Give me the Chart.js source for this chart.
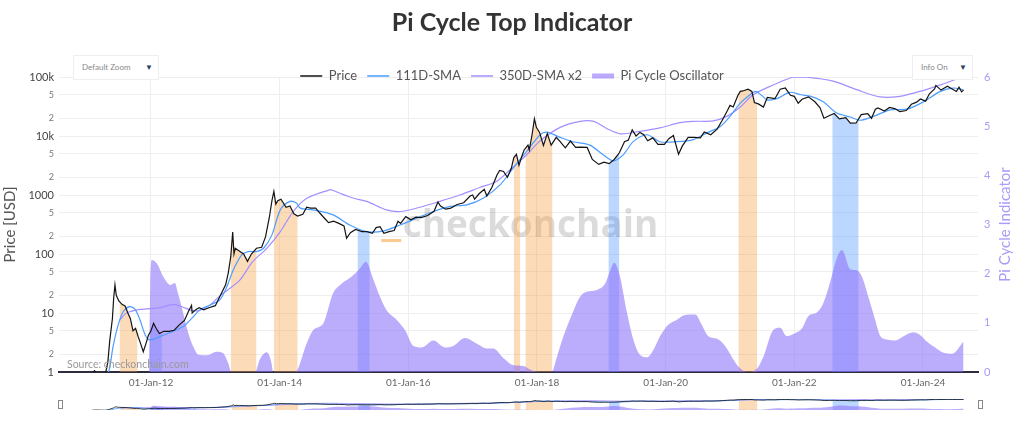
<!DOCTYPE html>
<html>
<head>
<meta charset="utf-8">
<title>Pi Cycle Top Indicator</title>
<script src="https://cdn.jsdelivr.net/npm/chart.js@4.4.1/dist/chart.umd.min.js"></script>
<style>
  html, body { margin: 0; padding: 0; background: #fff; }
  #wrap { position: relative; width: 1024px; height: 429px; overflow: hidden; font-family: Lato, "Open Sans", sans-serif; }
  #main { position: absolute; left: 0; top: 0; }
  #slider { position: absolute; left: 60px; top: 399px; }
  .menu { position: absolute; top: 55px; height: 25px; background: #fff; border: 1px solid #eee; box-sizing: border-box;
          font-size: 8px; color: #888; line-height: 23px; padding-left: 8px; }
  .menu span { position: absolute; right: 5px; top: 0; color: #2a3f5f; font-size: 8px; }
  .handle { position: absolute; top: 400px; width: 3px; height: 7px; border: 1px solid #888; background: #fff; }
</style>
</head>
<body>
<div id="wrap">
  <canvas id="main" width="1024" height="429"></canvas>
  <canvas id="slider" width="918" height="11"></canvas>
  <div class="handle" style="left:58px"></div>
  <div class="handle" style="left:978px"></div>
  <div class="menu" style="left:73px; width:86px">Default Zoom<span>&#9660;</span></div>
  <div class="menu" style="left:912px; width:61px">Info On<span>&#9660;</span></div>
</div>
<script>
// values, x = decimal year
const price = [
  [2010.58, 0.065], [2010.75, 0.1], [2010.92, 0.25], [2011.0, 0.3], [2011.08, 0.8], [2011.12, 1.05],
  [2011.2, 0.9], [2011.28, 0.8], [2011.33, 1.5], [2011.36, 3.5], [2011.4, 8], [2011.42, 18], [2011.44, 30],
  [2011.46, 20], [2011.5, 16], [2011.55, 14], [2011.6, 13], [2011.64, 10], [2011.68, 8], [2011.72, 5],
  [2011.76, 5.5], [2011.8, 4], [2011.84, 3], [2011.88, 2.2], [2011.92, 3], [2011.96, 4.2], [2012.0, 5],
  [2012.04, 6.7], [2012.08, 5.5], [2012.13, 4.5], [2012.2, 4.9], [2012.28, 4.9], [2012.36, 5.1],
  [2012.44, 6.3], [2012.52, 7.5], [2012.58, 10.5], [2012.63, 13.5], [2012.64, 10], [2012.7, 11.5],
  [2012.75, 12.3], [2012.82, 11.3], [2012.9, 12.3], [2013.0, 13.3], [2013.08, 20], [2013.16, 30],
  [2013.2, 47], [2013.24, 90], [2013.27, 235], [2013.29, 100], [2013.31, 125], [2013.36, 115],
  [2013.44, 100], [2013.5, 75], [2013.56, 100], [2013.64, 125], [2013.72, 130], [2013.78, 195],
  [2013.84, 420], [2013.88, 800], [2013.91, 1150], [2013.94, 700], [2013.97, 800], [2014.02, 850],
  [2014.1, 620], [2014.16, 650], [2014.22, 480], [2014.28, 440], [2014.36, 470], [2014.42, 620],
  [2014.48, 600], [2014.56, 600], [2014.62, 500], [2014.7, 400], [2014.76, 340], [2014.84, 360],
  [2014.92, 330], [2015.0, 300], [2015.04, 185], [2015.1, 230], [2015.18, 260], [2015.28, 240],
  [2015.36, 240], [2015.44, 225], [2015.5, 280], [2015.56, 290], [2015.62, 225], [2015.7, 240],
  [2015.78, 250], [2015.84, 360], [2015.88, 330], [2015.96, 430], [2016.04, 380], [2016.12, 420],
  [2016.2, 415], [2016.3, 450], [2016.4, 530], [2016.46, 760], [2016.5, 650], [2016.58, 575],
  [2016.66, 600], [2016.76, 690], [2016.86, 740], [2016.96, 960], [2017.0, 1000], [2017.03, 850],
  [2017.1, 1050], [2017.18, 1250], [2017.22, 960], [2017.3, 1350], [2017.38, 2200], [2017.42, 2600],
  [2017.48, 2500], [2017.54, 2000], [2017.6, 2800], [2017.64, 4300], [2017.68, 4900], [2017.72, 3200],
  [2017.76, 4400], [2017.8, 5800], [2017.86, 7000], [2017.88, 5800], [2017.92, 10000], [2017.96, 19600],
  [2017.99, 14000], [2018.04, 11500], [2018.1, 6900], [2018.16, 11000], [2018.22, 7000], [2018.3, 9500],
  [2018.36, 8000], [2018.44, 6300], [2018.52, 8200], [2018.6, 6400], [2018.68, 6500], [2018.78, 6400],
  [2018.86, 4000], [2018.96, 3300], [2019.04, 3600], [2019.12, 3400], [2019.2, 4000], [2019.28, 5200],
  [2019.36, 8000], [2019.42, 8500], [2019.48, 12700], [2019.54, 10000], [2019.6, 11500], [2019.66, 10500],
  [2019.72, 8300], [2019.8, 9300], [2019.88, 7200], [2019.98, 7200], [2020.05, 9000], [2020.12, 10200],
  [2020.2, 4900], [2020.26, 6800], [2020.35, 9500], [2020.44, 9500], [2020.54, 9300], [2020.6, 11700],
  [2020.7, 10500], [2020.8, 13100], [2020.88, 18500], [2020.96, 27000], [2021.0, 33000], [2021.05, 31000],
  [2021.12, 48000], [2021.16, 57000], [2021.2, 58000], [2021.28, 62000], [2021.34, 57000], [2021.38, 37000],
  [2021.44, 35000], [2021.52, 31000], [2021.58, 45000], [2021.7, 43000], [2021.78, 62000], [2021.86, 65000],
  [2021.94, 49000], [2022.0, 47000], [2022.06, 36000], [2022.12, 42000], [2022.22, 46000], [2022.32, 38000],
  [2022.4, 30000], [2022.46, 20000], [2022.54, 22000], [2022.62, 24000], [2022.7, 19500], [2022.8, 20500],
  [2022.87, 16500], [2022.96, 16600], [2023.04, 23000], [2023.14, 24000], [2023.2, 20000], [2023.26, 28500],
  [2023.3, 30000], [2023.4, 26500], [2023.48, 30500], [2023.56, 29200], [2023.64, 26000], [2023.74, 27000],
  [2023.82, 34500], [2023.9, 37500], [2023.96, 42500], [2024.04, 39000], [2024.1, 52000], [2024.18, 63000],
  [2024.2, 72000], [2024.28, 60000], [2024.38, 70000], [2024.46, 62000], [2024.52, 57000], [2024.56, 67000],
  [2024.6, 56000], [2024.63, 60000]
];

const sma111 = [
  [2010.86, 0.07], [2011.1, 0.25], [2011.34, 1.0], [2011.41, 2.7], [2011.49, 6.3], [2011.57, 10.6],
  [2011.67, 12.8], [2011.75, 11.6], [2011.83, 7.6], [2011.91, 4.25], [2011.98, 3.5], [2012.14, 4.0],
  [2012.35, 4.9], [2012.5, 5.9], [2012.56, 6.7], [2012.66, 8.7], [2012.76, 11.3], [2012.92, 13.7],
  [2013.07, 16.7], [2013.18, 28], [2013.28, 54], [2013.41, 97], [2013.51, 110], [2013.64, 110],
  [2013.75, 125], [2013.88, 211], [2014.01, 560], [2014.16, 780], [2014.26, 730], [2014.32, 600],
  [2014.52, 560], [2014.83, 460], [2015.09, 310], [2015.35, 240], [2015.61, 245], [2015.87, 310],
  [2016.13, 405], [2016.39, 525], [2016.65, 640], [2016.91, 680], [2017.17, 890], [2017.43, 1500],
  [2017.63, 2850], [2017.84, 5500], [2018.05, 10500], [2018.15, 11600], [2018.36, 9500], [2018.56, 8000],
  [2018.82, 7000], [2019.03, 4800], [2019.19, 3800], [2019.34, 4800], [2019.5, 8100], [2019.71, 10500],
  [2019.91, 8000], [2020.17, 8000], [2020.43, 8700], [2020.64, 11300], [2020.85, 14500], [2021.0, 21500],
  [2021.16, 36000], [2021.31, 50000], [2021.4, 57000], [2021.5, 48000], [2021.58, 41000], [2021.73, 43000],
  [2021.93, 55000], [2022.1, 50000], [2022.26, 47000], [2022.45, 38000], [2022.66, 24500], [2022.87, 21000],
  [2023.02, 18500], [2023.23, 21500], [2023.49, 27800], [2023.75, 28500], [2024.01, 38000], [2024.27, 57000],
  [2024.47, 65000], [2024.63, 61000]
];

const sma350x2 = [
  [2011.51, 7.5], [2011.62, 10], [2011.83, 11.5], [2012.14, 12.3], [2012.35, 14], [2012.5, 12.5],
  [2012.62, 11.2], [2012.75, 11], [2012.93, 14], [2013.07, 19.5], [2013.18, 24], [2013.38, 36],
  [2013.58, 74], [2013.8, 125], [2014.01, 240], [2014.21, 525], [2014.43, 890], [2014.79, 1230],
  [2014.83, 1190], [2015.14, 890], [2015.35, 780], [2015.66, 560], [2015.87, 525], [2016.18, 620],
  [2016.49, 780], [2016.8, 1000], [2017.11, 1340], [2017.37, 1700], [2017.58, 2680], [2017.84, 4800],
  [2018.05, 8300], [2018.36, 14000], [2018.67, 17700], [2018.88, 17700], [2019.09, 13300], [2019.3, 10900],
  [2019.6, 12000], [2019.91, 13700], [2020.22, 16800], [2020.43, 17700], [2020.74, 18100], [2020.95, 21500],
  [2021.16, 31000], [2021.36, 50000], [2021.67, 73000], [2021.98, 99000], [2022.19, 99000], [2022.6, 85000],
  [2022.97, 61000], [2023.33, 46000], [2023.64, 47000], [2023.95, 57000], [2024.26, 73000], [2024.6, 99000]
];

const piOsc = [
  [2011.97, 0], [2011.99, 1.8], [2012.01, 2.28], [2012.09, 2.21], [2012.19, 1.94], [2012.3, 1.77],
  [2012.37, 1.81], [2012.42, 1.6], [2012.5, 1.2], [2012.58, 0.79], [2012.66, 0.51], [2012.74, 0.35],
  [2012.87, 0.34], [2013.02, 0.41], [2013.12, 0.38], [2013.2, 0.18], [2013.25, 0], [2013.62, 0],
  [2013.69, 0.25], [2013.8, 0.4], [2013.87, 0.2], [2013.9, 0], [2014.24, 0], [2014.42, 0.58],
  [2014.52, 0.85], [2014.68, 0.99], [2014.83, 1.6], [2014.94, 1.77], [2015.12, 1.94], [2015.25, 2.11],
  [2015.34, 2.24], [2015.46, 1.87], [2015.56, 1.53], [2015.66, 1.26], [2015.82, 1.06], [2015.95, 0.85],
  [2016.08, 0.53], [2016.21, 0.5], [2016.39, 0.64], [2016.57, 0.5], [2016.7, 0.53], [2016.88, 0.69],
  [2017.06, 0.58], [2017.22, 0.48], [2017.32, 0.48], [2017.48, 0.28], [2017.63, 0.14], [2017.79, 0.12],
  [2017.89, 0.05], [2018.05, 0], [2018.23, 0], [2018.31, 0.31], [2018.41, 0.72], [2018.54, 1.16],
  [2018.67, 1.53], [2018.77, 1.63], [2018.93, 1.67], [2019.06, 1.8], [2019.14, 2.07], [2019.2, 2.22],
  [2019.29, 1.94], [2019.39, 1.26], [2019.5, 0.65], [2019.6, 0.35], [2019.71, 0.3], [2019.81, 0.45],
  [2019.91, 0.72], [2020.04, 0.96], [2020.17, 1.06], [2020.3, 1.16], [2020.46, 1.17], [2020.56, 0.96],
  [2020.66, 0.73], [2020.82, 0.66], [2020.95, 0.48], [2021.06, 0.24], [2021.16, 0.07], [2021.28, 0],
  [2021.42, 0.07], [2021.52, 0.31], [2021.67, 0.85], [2021.78, 0.9], [2021.88, 0.73], [2022.01, 0.79],
  [2022.12, 0.89], [2022.22, 1.14], [2022.35, 1.21], [2022.45, 1.4], [2022.55, 1.8], [2022.66, 2.31],
  [2022.74, 2.48], [2022.87, 2.09], [2022.97, 2.07], [2023.05, 1.94], [2023.15, 1.53], [2023.25, 1.09],
  [2023.33, 0.75], [2023.44, 0.66], [2023.57, 0.64], [2023.69, 0.72], [2023.85, 0.81], [2023.95, 0.76],
  [2024.06, 0.62], [2024.21, 0.48], [2024.32, 0.39], [2024.45, 0.37], [2024.63, 0.62]
];

// signal periods (start, end)
const topBands = [[2011.51, 2011.79], [2013.24, 2013.64], [2013.91, 2014.28], [2017.64, 2017.74], [2017.82, 2018.24], [2021.13, 2021.42]];
const bottomBands = [[2011.98, 2012.17], [2015.21, 2015.40], [2019.11, 2019.28], [2022.59, 2023.00]];
const topDash = [[2015.58, 169], [2015.89, 169]];

const yearTicks = [2012, 2014, 2016, 2018, 2020, 2022, 2024];
const priceTicks = [1, 2, 5, 10, 20, 50, 100, 200, 500, 1000, 2000, 5000, 10000, 20000, 50000, 100000];
const oscTicks = [0, 1, 2, 3, 4, 5, 6];

const X_MIN = 2010.57, X_MAX = 2024.855;
const FONT = 'Lato, "Open Sans", sans-serif';

const toXY = arr => arr.map(([x, y]) => ({ x, y }));

function priceAt(t) {
  for (let i = 0; i < price.length - 1; i++) {
    const [x0, y0] = price[i], [x1, y1] = price[i + 1];
    if (t >= x0 && t <= x1) {
      const f = (t - x0) / (x1 - x0);
      return Math.pow(10, Math.log10(y0) + f * (Math.log10(y1) - Math.log10(y0)));
    }
  }
  return price[price.length - 1][1];
}

function bandData([a, b]) {
  const inner = price.filter(p => p[0] > a && p[0] < b);
  return [{ x: a, y: priceAt(a) }, ...toXY(inner), { x: b, y: priceAt(b) }];
}

function buildDatasets(mini) {
  const w = mini ? 0.8 : 1.2;
  const sets = [
    { label: 'Price', data: toXY(price), borderColor: '#141414', borderWidth: w, yAxisID: 'y' },
    { label: '111D-SMA', data: toXY(sma111), borderColor: '#4b9dff', borderWidth: w, yAxisID: 'y', tension: 0.3 },
    { label: '350D-SMA x2', data: toXY(sma350x2), borderColor: '#a48eff', borderWidth: w, yAxisID: 'y', tension: 0.3 },
    { label: 'Pi Cycle Oscillator', data: toXY(piOsc), borderColor: 'rgba(0,0,0,0)', borderWidth: 0,
      backgroundColor: 'rgba(140,112,250,0.58)', fill: 'origin', yAxisID: 'y2', cubicInterpolationMode: 'monotone' },
    { label: '', data: toXY(topDash), borderColor: 'rgba(250,195,130,0.9)', borderWidth: mini ? 0 : 3, yAxisID: 'y' }
  ];
  topBands.forEach(r => sets.push({ label: '', data: bandData(r), borderColor: 'rgba(0,0,0,0)', borderWidth: 0,
    backgroundColor: 'rgba(246,160,70,0.38)', fill: 'start', yAxisID: 'y' }));
  bottomBands.forEach(r => sets.push({ label: '', data: bandData(r), borderColor: 'rgba(0,0,0,0)', borderWidth: 0,
    backgroundColor: 'rgba(70,145,255,0.36)', fill: 'start', yAxisID: 'y' }));
  sets.forEach(s => { s.pointRadius = 0; });
  return sets;
}

function priceLabel(v) {
  if (v === 100000) return '100k';
  if (v === 10000) return '10k';
  const lead = v / Math.pow(10, Math.floor(Math.log10(v) + 1e-9));
  return Math.abs(lead - 1) < 1e-9 ? String(v) : String(Math.round(lead));
}
const isDecade = v => Math.abs(Math.log10(v) - Math.round(Math.log10(v))) < 1e-9;

// move the legend row down so it sits on the top edge of the plot, like the original
const legendShift = {
  id: 'legendShift',
  afterLayout(chart) {
    const lg = chart.legend;
    if (!lg) return;
    const dy = 59.5 - lg.top;
    lg.top += dy;
    lg.bottom += dy;
  }
};

const decorations = {
  id: 'decorations',
  beforeDatasetsDraw(chart) {
    const { ctx, chartArea: a } = chart;
    ctx.save();
    ctx.font = 'bold 37px "Open Sans"';
    ctx.fillStyle = 'rgba(0,0,0,0.14)';
    ctx.textAlign = 'center';
    ctx.textBaseline = 'alphabetic';
    ctx.fillText('checkonchain', (a.left + a.right) / 2 + 12, 237);
    ctx.restore();
  },
  afterDraw(chart) {
    const { ctx, chartArea: a } = chart;
    ctx.save();
    ctx.font = '10.5px ' + FONT;
    ctx.fillStyle = '#999';
    ctx.textBaseline = 'middle';
    ctx.fillText('Source: checkonchain.com', a.left + 8, a.bottom - 7);

    ctx.font = '15px ' + FONT;
    ctx.textAlign = 'center';
    ctx.translate(10, (a.top + a.bottom) / 2);
    ctx.rotate(-Math.PI / 2);
    ctx.fillStyle = '#555';
    ctx.fillText('Price [USD]', 0, 0);
    ctx.restore();

    ctx.save();
    ctx.font = '15px ' + FONT;
    ctx.textAlign = 'center';
    ctx.textBaseline = 'middle';
    ctx.fillStyle = '#a99cf7';
    ctx.translate(1005, (a.top + a.bottom) / 2);
    ctx.rotate(-Math.PI / 2);
    ctx.fillText('Pi Cycle Indicator', 0, 0);
    ctx.restore();
  }
};

Chart.defaults.font.family = FONT;
Chart.defaults.animation = false;

new Chart(document.getElementById('main'), {
  type: 'line',
  data: { datasets: buildDatasets(false) },
  plugins: [legendShift, decorations],
  options: {
    responsive: false,
    parsing: false,
    normalized: true,
    layout: { padding: 0 },
    plugins: {
      tooltip: { enabled: false },
      title: {
        display: true, text: 'Pi Cycle Top Indicator', color: '#333',
        font: { size: 25, weight: 'bold', family: FONT }, padding: { top: 8, bottom: 6 }
      },
      legend: {
        display: true,
        labels: {
          usePointStyle: true, pointStyleWidth: 22, color: '#555', padding: 10,
          font: { size: 13, family: FONT },
          filter: item => item.text !== '',
          generateLabels: chart => Chart.defaults.plugins.legend.labels.generateLabels(chart).map(it => {
            it.pointStyle = 'line';
            if (it.text === 'Pi Cycle Oscillator') {
              it.strokeStyle = 'rgba(140,112,250,0.6)';
              it.lineWidth = 5;
            } else {
              it.lineWidth = 1.5;
            }
            return it;
          })
        }
      }
    },
    scales: {
      x: {
        type: 'linear', min: X_MIN, max: X_MAX,
        afterBuildTicks: s => { s.ticks = yearTicks.map(v => ({ value: v })); },
        afterFit: s => { s.height = 57; },
        ticks: {
          autoSkip: false, maxRotation: 0, padding: 5, color: '#666', font: { size: 10 },
          callback: v => '01-Jan-' + String(v).slice(2)
        },
        grid: { color: '#eeeeee', drawTicks: false },
        border: { display: true, color: '#2c2c3c', width: 2 }
      },
      y: {
        type: 'logarithmic', position: 'left', min: 1, max: 100000,
        afterBuildTicks: s => { s.ticks = priceTicks.map(v => ({ value: v })); },
        afterFit: s => { s.width = 59; },
        ticks: {
          autoSkip: false, padding: 5,
          color: ctx => isDecade(ctx.tick.value) ? '#444' : '#777',
          font: ctx => ({ size: isDecade(ctx.tick.value) ? 11 : 9 }),
          callback: v => priceLabel(v)
        },
        grid: { color: '#eeeeee', drawTicks: false },
        border: { display: false }
      },
      y2: {
        type: 'linear', position: 'right', min: 0, max: 6,
        afterBuildTicks: s => { s.ticks = oscTicks.map(v => ({ value: v })); },
        afterFit: s => { s.width = 46; },
        ticks: { autoSkip: false, padding: 6, color: '#a99cf7', font: { size: 11 } },
        grid: { drawOnChartArea: false, drawTicks: false },
        border: { display: false }
      }
    }
  }
});

// range slider strip under the x axis
new Chart(document.getElementById('slider'), {
  type: 'line',
  data: { datasets: buildDatasets(true) },
  options: {
    responsive: false,
    parsing: false,
    layout: { padding: 0 },
    plugins: { tooltip: { enabled: false }, legend: { display: false }, title: { display: false } },
    scales: {
      x: { type: 'linear', min: X_MIN, max: X_MAX, display: false },
      y: { type: 'logarithmic', min: 1, max: 100000, display: false },
      y2: { type: 'linear', min: 0, max: 6, display: false }
    }
  }
});
</script>
</body>
</html>
